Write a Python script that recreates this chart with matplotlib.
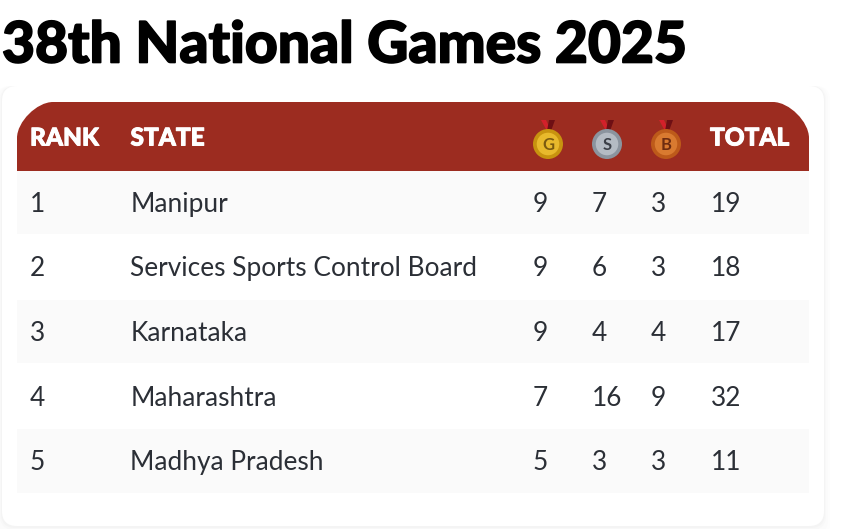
import matplotlib
matplotlib.use("Agg")
import matplotlib.pyplot as plt
import matplotlib.patheffects as pe
from matplotlib.patches import Circle, FancyBboxPatch, PathPatch, Polygon, Rectangle
from matplotlib.path import Path

title = "38th National Games 2025"
ranks = ["1", "2", "3", "4", "5"]
states = ["Manipur", "Services Sports Control Board", "Karnataka", "Maharashtra", "Madhya Pradesh"]
gold = [9, 9, 9, 7, 5]
silver = [7, 6, 4, 16, 3]
bronze = [3, 3, 4, 9, 3]
total = [19, 18, 17, 32, 11]
medal_letters = ["G", "S", "B"]

W, H = 850, 529
RED = "#9c2c20"
TXT = "#2b2f36"

fig = plt.figure(figsize=(W / 100, H / 100), dpi=100)
ax = fig.add_axes([0, 0, 1, 1])
ax.set_xlim(0, W)
ax.set_ylim(H, 0)
ax.axis("off")

# soft shadow behind the card
for grow, col in [(12, "#fdfdfd"), (8, "#fbfbfb"), (4, "#f8f8f8"), (2, "#f4f4f4")]:
    ax.add_patch(FancyBboxPatch((2 + 15 - grow / 2, 86 + 15), 822 - 30 + grow, 440 - 30 + grow,
                                boxstyle="round,pad=15,rounding_size=15", fc=col, ec="none"))
ax.add_patch(FancyBboxPatch((2 + 15, 86 + 15), 822 - 30, 440 - 30,
                            boxstyle="round,pad=15,rounding_size=15", fc="white", ec="none"))

t = ax.text(2, 46, title, fontsize=41, fontweight="black", family="Lato", color="black", va="center")
t.set_path_effects([pe.withStroke(linewidth=1.2, foreground="black")])

# header, only top corners rounded
x0, x1, y0, y1, r = 17, 809, 102, 171, 36
k = 0.45 * r
verts = [(x0, y1), (x0, y0 + r), (x0, y0 + r - k), (x0 + r - k, y0), (x0 + r, y0), (x1 - r, y0),
         (x1 - r + k, y0), (x1, y0 + r - k), (x1, y0 + r), (x1, y1), (x0, y1)]
codes = [Path.MOVETO, Path.LINETO, Path.CURVE4, Path.CURVE4, Path.CURVE4, Path.LINETO,
         Path.CURVE4, Path.CURVE4, Path.CURVE4, Path.LINETO, Path.CLOSEPOLY]
ax.add_patch(PathPatch(Path(verts, codes), fc=RED, ec="none"))

head = dict(fontsize=17.6, fontweight="black", family="Lato", color="white", va="center")
for hx, label in [(30, "RANK"), (130.5, "STATE"), (710, "TOTAL")]:
    h = ax.text(hx, 138, label, **head)
    h.set_path_effects([pe.withStroke(linewidth=0.7, foreground="white")])

# medals
medal_x = [548, 607, 666]
faces = ["#c8930f", "#8b949e", "#bd5a1a"]
inner = ["#e8b92c", "#b4bbc3", "#d97a30"]
letter_cols = ["#7a5a10", "#3c4048", "#6e2c10"]
for mx, fc, ic, lc, letter in zip(medal_x, faces, inner, letter_cols, medal_letters):
    ax.add_patch(Polygon([(mx - 7, 120), (mx - 2, 120), (mx + 3, 131), (mx - 1, 131)], fc="#d3202a", ec="none"))
    ax.add_patch(Polygon([(mx + 7, 120), (mx + 1, 120), (mx - 1, 131), (mx + 3, 131)], fc="#6e0f14", ec="none"))
    ax.add_patch(Circle((mx, 144), 15, fc=fc, ec="none"))
    ax.add_patch(Circle((mx, 144), 12, fc=ic, ec=fc, lw=1))
    ax.text(mx, 144.5, letter, fontsize=12, fontweight="bold", family="Lato", color=lc, ha="center", va="center")

# rows
row_h = 64.6
body = dict(fontsize=18.9, family="Lato", color=TXT, va="center")
for i in range(len(ranks)):
    top = 171 + i * row_h
    if i % 2 == 0:
        ax.add_patch(Rectangle((17, top), 792, row_h - 1.5, fc="#fafafa", ec="none"))
    yc = top + row_h / 2 + 1
    ax.text(29.5, yc, ranks[i], **body)
    ax.text(130.5, yc, states[i], **body)
    ax.text(533, yc, str(gold[i]), **body)
    ax.text(592, yc, str(silver[i]), **body)
    ax.text(651, yc, str(bronze[i]), **body)
    ax.text(710.5, yc, str(total[i]), **body)

fig.savefig("out.png", dpi=100, facecolor="white")
